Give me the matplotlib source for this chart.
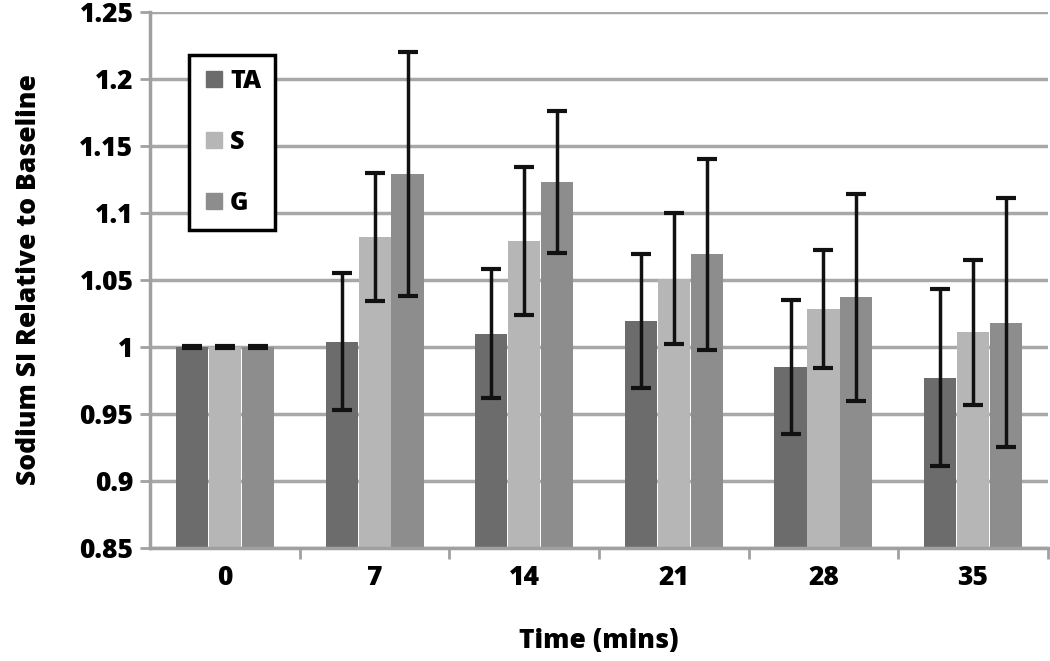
import matplotlib.pyplot as plt
import numpy as np
from matplotlib.lines import Line2D

#------
# data

times = ['0', '7', '14', '21', '28', '35']
series_names = ['TA', 'S', 'G']

ta_mean = [1.000, 1.004, 1.010, 1.019, 0.985, 0.977]
ta_err = [0.001, 0.051, 0.048, 0.050, 0.050, 0.066]

s_mean = [1.000, 1.082, 1.079, 1.051, 1.028, 1.011]
s_err = [0.001, 0.048, 0.055, 0.049, 0.044, 0.054]

g_mean = [1.000, 1.129, 1.123, 1.069, 1.037, 1.018]
g_err = [0.001, 0.091, 0.053, 0.071, 0.077, 0.093]

colors = ['#6c6c6c', '#b6b6b6', '#8d8d8d']

#------
# styling
plt.rcParams['font.family'] = ['Open Sans', 'DejaVu Sans']
plt.rcParams['font.weight'] = 'heavy'

fig = plt.figure(figsize=(10.5, 6.61), dpi=100)
ax = fig.add_axes([0.143, 0.171, 0.855, 0.811])

x = np.arange(len(times))
width = 0.215
means = [ta_mean, s_mean, g_mean]
errs = [ta_err, s_err, g_err]

for i in range(3):
    pos = x + (i - 1) * (width + 0.005)
    ax.bar(pos, means[i], width, bottom=0, color=colors[i], zorder=2,
           label=series_names[i])
    ax.errorbar(pos, means[i], yerr=errs[i], fmt='none', ecolor='#111111',
                elinewidth=2.5, capsize=7, capthick=3, zorder=3)

ax.set_ylim(0.85, 1.25)
ax.set_xlim(-0.5, 5.5)
ax.set_yticks(np.arange(0.85, 1.2501, 0.05))
ax.set_yticklabels(['0.85', '0.9', '0.95', '1', '1.05', '1.1', '1.15', '1.2', '1.25'])
ax.set_xticks(x)
ax.set_xticklabels(times)
ax.set_xticks(np.arange(0.5, 5.6, 1.0), minor=True)

ax.tick_params(axis='x', which='major', length=0, pad=12, labelsize=19)
ax.tick_params(axis='x', which='minor', length=8, width=2, color='#a0a0a0',
               direction='out')
ax.tick_params(axis='y', which='major', length=7, width=2, color='#a0a0a0',
               labelsize=19, pad=5)

ax.yaxis.grid(True, color='#a8a8a8', linewidth=2.5, zorder=0)
ax.set_axisbelow(True)
for side in ['top', 'right']:
    ax.spines[side].set_visible(False)
for side in ['left', 'bottom']:
    ax.spines[side].set_color('#a0a0a0')
    ax.spines[side].set_linewidth(2.5)

ax.set_xlabel('Time (mins)', fontsize=19, fontweight='heavy')
ax.set_ylabel('Sodium SI Relative to Baseline', fontsize=19,
              fontweight='heavy')
ax.xaxis.set_label_coords(0.5, -0.15)
ax.yaxis.set_label_coords(-0.12, 0.5)

handles = [Line2D([0], [0], marker='s', linestyle='none', markersize=12,
                  markerfacecolor=c, markeredgecolor=c) for c in colors]
leg = ax.legend(handles, series_names, loc='upper left',
                bbox_to_anchor=(0.043, 0.92), fontsize=18, frameon=True,
                fancybox=False, labelspacing=1.45, handletextpad=0.2,
                handlelength=0.9, borderpad=0.55, borderaxespad=0)
leg.get_frame().set_edgecolor('black')
leg.get_frame().set_linewidth(2.5)
leg.get_frame().set_alpha(1)

fig.savefig('out.png', dpi=100)
